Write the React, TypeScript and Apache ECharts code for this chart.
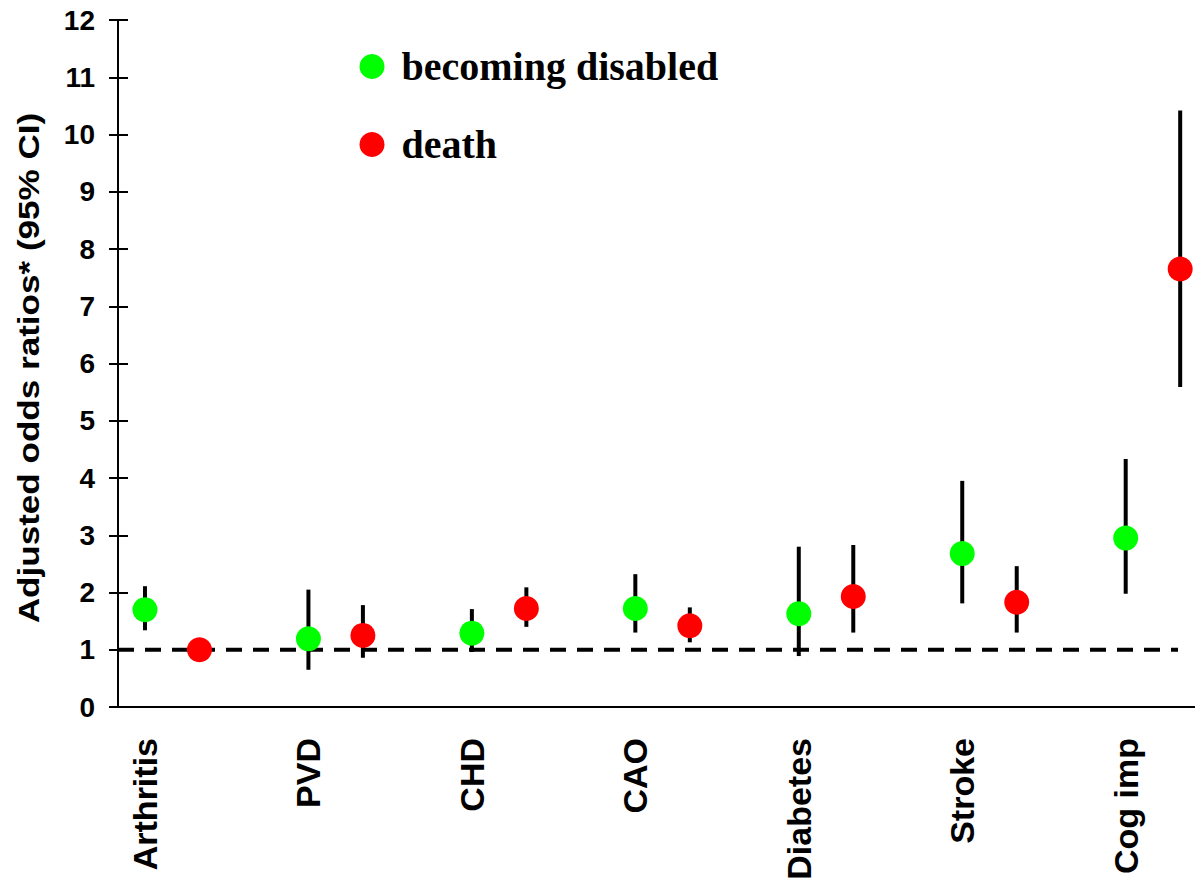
import React, { useEffect, useRef } from "react";
import * as echarts from "echarts";

const categories = ["Arthritis", "PVD", "CHD", "CAO", "Diabetes", "Stroke", "Cog imp"];
const disabledOR = [1.70, 1.19, 1.29, 1.72, 1.63, 2.68, 2.95];
const disabledLo = [1.34, 0.65, 0.96, 1.30, 0.89, 1.81, 1.98];
const disabledHi = [2.11, 2.05, 1.71, 2.32, 2.80, 3.95, 4.33];
const deathOR = [1.00, 1.25, 1.72, 1.42, 1.93, 1.83, 7.65];
const deathLo = [0.93, 0.86, 1.40, 1.13, 1.30, 1.30, 5.59];
const deathHi = [1.10, 1.78, 2.09, 1.74, 2.83, 2.46, 10.42];
const yTicks = [0, 12, 1]; // min, max, interval
const refValue = 1;

const RED_OFFSET = 1 / 3;
const XMIN = -0.165;
const XMAX = 6.424;
const REF_END = 6.32;

const SANS = "'Liberation Sans', Arial, Helvetica, sans-serif";
const SERIF = "'Liberation Serif', 'Times New Roman', serif";

export default function App() {
  const ref = useRef<HTMLDivElement>(null);
  useEffect(() => {
    if (!ref.current) return;
    const chart = echarts.init(ref.current, null, { renderer: "svg" });
    const greenPts = categories.map((_, i) => [i, disabledOR[i]]);
    const redPts = categories.map((_, i) => [i + RED_OFFSET, deathOR[i]]);
    const bars = [
      ...categories.map((_, i) => [i, disabledLo[i], disabledHi[i]]),
      ...categories.map((_, i) => [i + RED_OFFSET, deathLo[i], deathHi[i]]),
    ];
    const option: any = {
      animation: false,
      backgroundColor: "#fff",
      grid: {
        left: 118,
        right: 0,
        top: 20,
        bottom: 173,
        containLabel: false,
        outerBoundsMode: "none",
      },
      legend: {
        data: ["becoming disabled", "death"],
        orient: "vertical",
        left: 359.5,
        top: 46.5,
        padding: 0,
        itemGap: 38,
        itemWidth: 25,
        itemHeight: 25,
        icon: "circle",
        selectedMode: false,
        textStyle: {
          fontFamily: SERIF,
          fontWeight: "bold",
          fontSize: 40,
          color: "#000",
          padding: [0, 0, 0, 12],
        },
      },
      xAxis: {
        type: "value",
        min: XMIN,
        max: XMAX,
        axisLine: { show: true, onZero: false, lineStyle: { color: "#000", width: 2 } },
        axisTick: { show: false },
        splitLine: { show: false },
        axisLabel: {
          customValues: categories.map((_, i) => i),
          formatter: (v: number) => categories[Math.round(v)] ?? "",
          rotate: 90,
          margin: 31,
          fontSize: 34,
          fontWeight: "bold",
          fontFamily: SANS,
          color: "#000",
        },
      },
      yAxis: [
        {
          type: "value",
          min: yTicks[0],
          max: yTicks[1],
          interval: yTicks[2],
          axisLine: { show: true, onZero: false, lineStyle: { color: "#000", width: 2 } },
          axisTick: { show: true, length: 9, lineStyle: { color: "#000", width: 2 } },
          splitLine: { show: false },
          axisLabel: {
            margin: 23,
            fontSize: 28,
            fontWeight: "bold",
            fontFamily: SANS,
            color: "#000",
          },
        },
        {
          type: "value",
          min: yTicks[0],
          max: yTicks[1],
          interval: yTicks[2],
          position: "left",
          axisLine: { show: false, onZero: false },
          axisTick: { show: true, inside: true, length: 10, lineStyle: { color: "#000", width: 2 } },
          splitLine: { show: false },
          axisLabel: { show: false },
        },
      ],
      graphic: [
        {
          type: "text",
          x: 28,
          y: 368,
          rotation: Math.PI / 2,
          scaleX: 1.17,
          style: {
            text: "Adjusted odds ratios* (95% CI)",
            font: `bold 30px ${SANS}`,
            fill: "#000",
            textAlign: "center",
            textVerticalAlign: "middle",
          },
        },
      ],
      series: [
        {
          name: "ref",
          type: "line",
          silent: true,
          symbol: "none",
          data: [
            [XMIN, refValue],
            [REF_END, refValue],
          ],
          lineStyle: { color: "#000", width: 4, type: [16, 11] },
          z: 1,
        },
        {
          name: "CI",
          type: "custom",
          silent: true,
          encode: { x: 0, y: [1, 2] },
          data: bars,
          renderItem: (params: any, api: any) => {
            const x = api.value(0);
            const p1 = api.coord([x, api.value(1)]);
            const p2 = api.coord([x, api.value(2)]);
            return {
              type: "line",
              shape: { x1: p1[0], y1: p1[1], x2: p2[0], y2: p2[1] },
              style: { stroke: "#000", lineWidth: 4, lineCap: "butt" },
            };
          },
          z: 2,
        },
        {
          name: "becoming disabled",
          type: "scatter",
          symbol: "circle",
          symbolSize: 25,
          itemStyle: { color: "#00ff00", opacity: 1 },
          data: greenPts,
          z: 3,
        },
        {
          name: "death",
          type: "scatter",
          symbol: "circle",
          symbolSize: 25,
          itemStyle: { color: "#ff0000", opacity: 1 },
          data: redPts,
          z: 3,
        },
      ],
    };
    chart.setOption(option);
    return () => chart.dispose();
  }, []);
  return (
    <div
      ref={ref}
      style={{ position: "absolute", left: 0, top: 0, width: 1195, height: 880 }}
    />
  );
}
